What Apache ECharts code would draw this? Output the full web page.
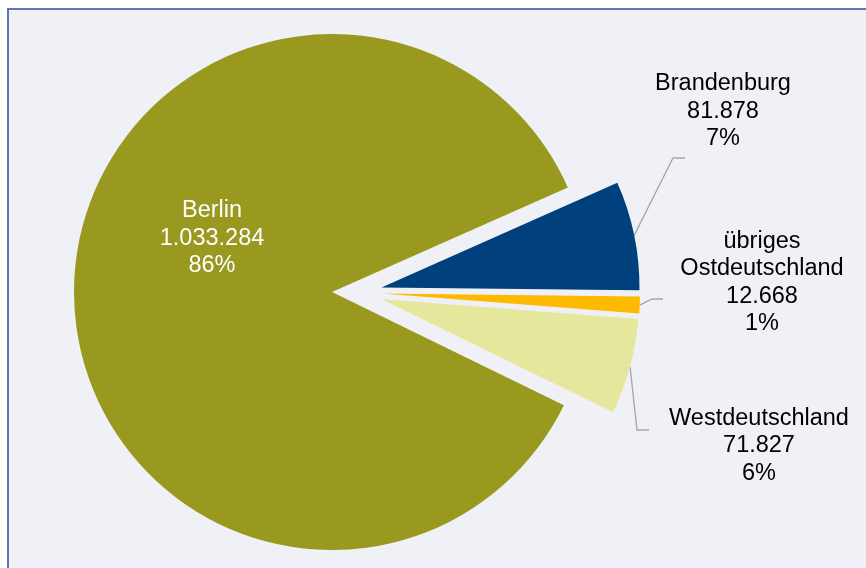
<!DOCTYPE html>
<html>
<head>
<meta charset="utf-8">
<script src="https://cdn.jsdelivr.net/npm/echarts@6/dist/echarts.min.js"></script>
<style>
    html, body { margin: 0; padding: 0; background: #fff; overflow: hidden; }
    #frame {
        position: absolute; left: 7px; top: 8px; width: 900px; height: 600px;
        border: 2px solid #5b76b1; background: #f0f1f7;
    }
    #chart { position: absolute; left: 0; top: 0; width: 866px; height: 568px; }
</style>
</head>
<body>
<div id="frame"></div>
<div id="chart"></div>
<script>
    // Pendler nach Herkunft
    const categories = ['Berlin', 'Brandenburg', 'übriges\nOstdeutschland', 'Westdeutschland'];
    const values = [1033284, 81878, 12668, 71827];
    const colors = ['#98991e', '#00407c', '#fdba00', '#e5e89c'];

    const startAngle = 334;
    const explode = 25;

    // where each label sits (centre of text block) and its leader line bends
    const labelPos = [
        { x: 212, y: 238.5, line: null },
        { x: 723, y: 111.5, line: [[673, 158], [685, 158]] },
        { x: 762, y: 282.5, line: [[652, 299], [663, 299]] },
        { x: 759, y: 446, line: [[637, 430], [649, 430]] }
    ];

    const fmt = v => String(v).replace(/\B(?=(\d{3})+(?!\d))/g, '.');

    // offset of an exploded slice along its bisector
    const total = values.reduce((a, b) => a + b, 0);
    const sliceShift = values.map((v, i) => {
        const before = values.slice(0, i).reduce((a, b) => a + b, 0);
        const mid = (startAngle - (before + v / 2) / total * 360) * Math.PI / 180;
        return [explode * Math.cos(mid), -explode * Math.sin(mid)];
    });

    const pieBase = {
        type: 'pie',
        center: [357, 292.5],
        radius: 258,
        startAngle: startAngle,
        clockwise: true,
        avoidLabelOverlap: false,
        emphasis: { disabled: true }
    };

    const chart = echarts.init(document.getElementById('chart'), null, { renderer: 'canvas' });
    chart.setOption({
        animation: false,
        backgroundColor: 'transparent',
        series: [
            Object.assign({}, pieBase, {
                selectedMode: 'multiple',
                selectedOffset: explode,
                label: { show: false },
                labelLine: { show: false },
                data: categories.map((name, i) => ({
                    name: name, value: values[i], selected: true,
                    itemStyle: { color: colors[i] }
                }))
            }),
            Object.assign({}, pieBase, {
                silent: true,
                itemStyle: { color: 'rgba(0,0,0,0)' },
                label: {
                    fontFamily: 'Liberation Sans, Arial, sans-serif',
                    fontSize: 23.5,
                    lineHeight: 27.5,
                    align: 'center',
                    formatter: p => p.name + '\n' + fmt(p.value) + '\n' + Math.round(p.percent) + '%'
                },
                labelLine: {
                    lineStyle: { color: '#a6a6a6', width: 1.3 }
                },
                labelLayout: function (params) {
                    const pos = labelPos[params.dataIndex];
                    const out = { x: pos.x, y: pos.y, align: 'center', verticalAlign: 'middle' };
                    if (pos.line && params.labelLinePoints) {
                        const s = sliceShift[params.dataIndex];
                        const p0 = params.labelLinePoints[0];
                        out.labelLinePoints = [[p0[0] + s[0], p0[1] + s[1]], pos.line[0], pos.line[1]];
                    }
                    return out;
                },
                data: categories.map((name, i) => ({
                    name: name, value: values[i],
                    label: i === 0 ? { position: 'inside', color: '#fff' } : { position: 'outside', color: '#000' },
                    labelLine: { show: i !== 0 }
                }))
            })
        ]
    });
</script>
</body>
</html>
